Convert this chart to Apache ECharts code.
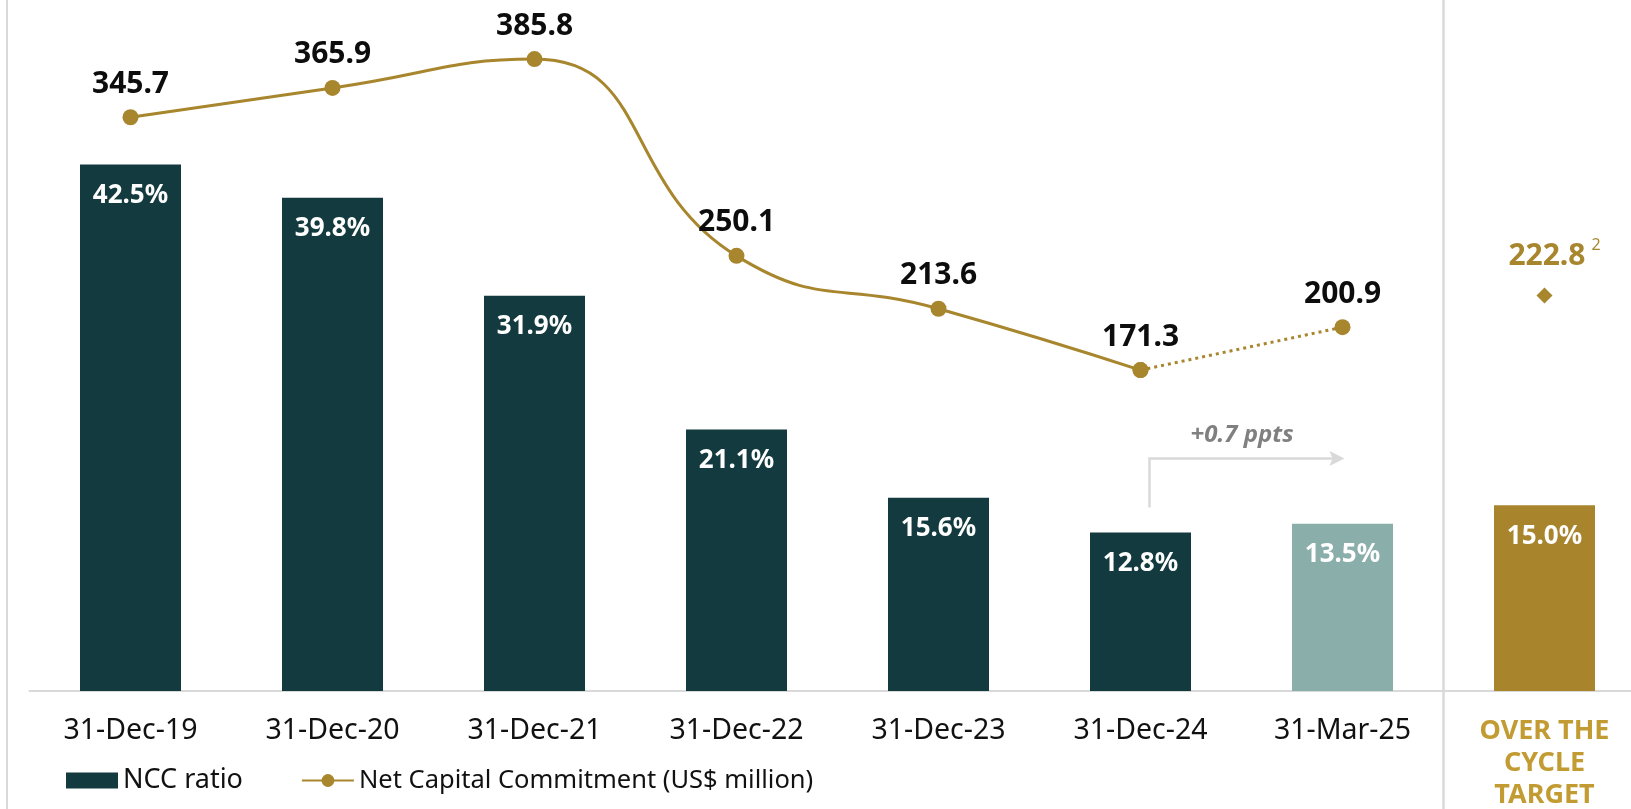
<!DOCTYPE html>
<html>
<head>
<meta charset="utf-8">
<style>
	html, body { margin: 0; padding: 0; background: #fff; }
	#chart { width: 1631px; height: 809px; }
</style>
<script src="https://cdn.jsdelivr.net/npm/echarts@6/dist/echarts.min.js"></script>
</head>
<body>
<div id="chart"></div>
<script>
// data
const categories = ['31-Dec-19', '31-Dec-20', '31-Dec-21', '31-Dec-22', '31-Dec-23', '31-Dec-24', '31-Mar-25', 'OVER THE CYCLE TARGET']
const nccRatio = [42.5, 39.8, 31.9, 21.1, 15.6, 12.8, 13.5, 15.0]
const netCapital = [345.7, 365.9, 385.8, 250.1, 213.6, 171.3, null, null]
const netCapitalLatest = [null, null, null, null, null, 171.3, 200.9, null]
const netCapitalTarget = [null, null, null, null, null, null, null, 222.8]
const barColors = ['#133A3E', '#133A3E', '#133A3E', '#133A3E', '#133A3E', '#133A3E', '#8AAEAA', '#A8842C']

const GOLD = '#A8862E'
const FONT = '"Noto Sans", "Open Sans", sans-serif'

let chart = echarts.init(document.getElementById('chart'))
let option = {
	animation: false,
	textStyle: { fontFamily: FONT },
	grid: { left: 29.5, right: -14.5, top: 9.5, bottom: 118, outerBoundsMode: 'none', containLabel: false },
	legend: {
		left: 66, top: 767, padding: 0, itemGap: 58,
		itemWidth: 52, itemHeight: 16,
		textStyle: { fontSize: 27, color: '#111', fontFamily: FONT },
		data: [
			{ name: 'NCC ratio', icon: 'rect', itemStyle: { color: '#133A3E' } },
			{ name: 'Net Capital Commitment (US$ million)', textStyle: { fontSize: 25.5 } }
		]
	},
	xAxis: {
		type: 'category', data: categories,
		axisLine: { lineStyle: { color: '#D9D9D9', width: 2 } },
		axisTick: { show: false },
		axisLabel: {
			interval: 0, margin: 24, fontSize: 28.5, lineHeight: 32, color: '#111',
			formatter: function (value, index) {
				if (index === 7) {
					return '{t|OVER THE}\n{t|CYCLE}\n{t|TARGET}'
				}
				return value
			},
			rich: { t: { color: '#C29C33', fontSize: 27, fontWeight: 'bold', lineHeight: 32, fontFamily: FONT } }
		}
	},
	yAxis: [
		{ type: 'value', min: 0, max: 55, show: false, splitLine: { show: false } },
		{ type: 'value', min: -50, max: 420, show: false, splitLine: { show: false } }
	],
	series: [
		{
			name: 'NCC ratio', type: 'bar', barWidth: 101, yAxisIndex: 0,
			data: nccRatio,
			itemStyle: { color: function (p) { return barColors[p.dataIndex] } },
			label: {
				show: true, position: 'insideTop', distance: 18,
				color: '#fff', fontSize: 26, fontWeight: 'bold', fontFamily: FONT,
				formatter: function (p) { return p.value.toFixed(1) + '%' }
			}
		},
		{
			name: 'Net Capital Commitment (US$ million)', type: 'line', yAxisIndex: 1,
			data: netCapital, smooth: 0.5,
			symbol: 'circle', symbolSize: 16,
			itemStyle: { color: GOLD },
			lineStyle: { color: GOLD, width: 3 },
			label: {
				show: true, position: 'top', distance: 10,
				color: '#0d0d0d', fontSize: 30, fontWeight: 'bold', fontFamily: FONT,
				formatter: function (p) { return p.value.toFixed(1) }
			},
			z: 3
		},
		{
			name: 'Net Capital Commitment (US$ million)', type: 'line', yAxisIndex: 1,
			data: netCapitalLatest,
			symbol: 'circle', symbolSize: 16,
			itemStyle: { color: GOLD },
			lineStyle: { color: GOLD, width: 3, type: [3, 4] },
			label: {
				show: true, position: 'top', distance: 10,
				color: '#0d0d0d', fontSize: 30, fontWeight: 'bold', fontFamily: FONT,
				formatter: function (p) { return p.dataIndex === 6 ? p.value.toFixed(1) : '' }
			},
			z: 3
		},
		{
			name: 'target', type: 'line', yAxisIndex: 1,
			data: netCapitalTarget,
			symbol: 'diamond', symbolSize: 16,
			itemStyle: { color: GOLD },
			lineStyle: { width: 0 },
			label: {
				show: true, position: 'top', distance: 12, offset: [10, 0],
				formatter: function (p) { return '{v|' + p.value.toFixed(1) + '}{s|2}' },
				rich: {
					v: { color: GOLD, fontSize: 30, fontWeight: 'bold', fontFamily: FONT },
					s: { color: GOLD, fontSize: 16, fontFamily: FONT, padding: [0, 0, 22, 6] }
				}
			},
			z: 3
		}
	]
}
chart.setOption(option)

// divider lines and the +0.7 ppts arrow, placed from the axes
let px = function (i, v) { return chart.convertToPixel({ xAxisIndex: 0, yAxisIndex: 0 }, [i, v]) }
let divX = (px(6, 0)[0] + px(7, 0)[0]) / 2
let x0 = px(5, 0)[0] + 9
let x1 = px(6, 0)[0] + 2
let yb = px(5, nccRatio[5])[1] - 25
let yt = yb - 49
const LINE_GREY = '#D9D9D9'
chart.setOption({
	graphic: [
		{ type: 'line', shape: { x1: 7, y1: 0, x2: 7, y2: 809 }, style: { stroke: LINE_GREY, lineWidth: 2 } },
		{ type: 'line', shape: { x1: divX, y1: 0, x2: divX, y2: 809 }, style: { stroke: LINE_GREY, lineWidth: 2.5 } },
		{ type: 'polyline', shape: { points: [[x0, yb], [x0, yt], [x1 - 12, yt]] }, style: { stroke: LINE_GREY, lineWidth: 2.5, fill: null } },
		{ type: 'polygon', shape: { points: [[x1 - 15, yt - 7.5], [x1, yt], [x1 - 15, yt + 7.5], [x1 - 12, yt]] }, style: { fill: LINE_GREY } },
		{
			type: 'text', x: (x0 + x1) / 2 - 5, y: yt - 23,
			style: {
				text: '+0.7 ppts', fill: '#808080', fontSize: 24, fontWeight: 'bold', fontStyle: 'italic',
				fontFamily: FONT, align: 'center', verticalAlign: 'middle'
			}
		}
	]
})
</script>
</body>
</html>
